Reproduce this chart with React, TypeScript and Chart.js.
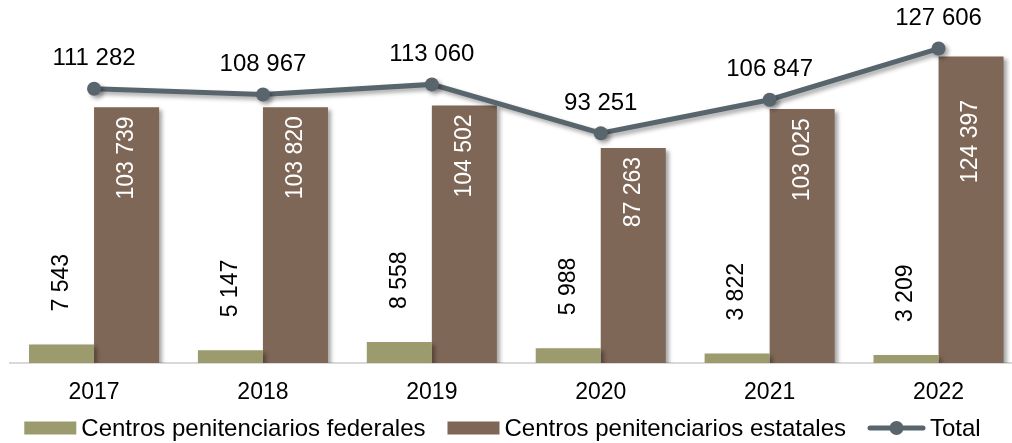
import React, { useEffect, useRef } from 'react';
import { Chart, registerables } from 'chart.js';

Chart.register(...registerables);

const categories = ['2017', '2018', '2019', '2020', '2021', '2022'];
const federales = [7543, 5147, 8558, 5988, 3822, 3209];
const estatales = [103739, 103820, 104502, 87263, 103025, 124397];
const totales = [111282, 108967, 113060, 93251, 106847, 127606];
const seriesNames = [
  'Centros penitenciarios federales',
  'Centros penitenciarios estatales',
  'Total',
];

const COLOR_FED = '#9B9B6E';
const COLOR_EST = '#7F6757';
const COLOR_TOT = '#59656D';
const FONT = '"Liberation Sans", Arial, sans-serif';

const fmt = (v: number) => String(v).replace(/\B(?=(\d{3})+(?!\d))/g, ' ');

const shadowPlugin = {
  id: 'shadowPlugin',
  beforeDatasetDraw(chart: any) {
    const ctx = chart.ctx;
    ctx.save();
    ctx.shadowColor = 'rgba(0,0,0,0.35)';
    ctx.shadowBlur = 4;
    ctx.shadowOffsetX = 3;
    ctx.shadowOffsetY = 3;
  },
  afterDatasetDraw(chart: any) {
    chart.ctx.restore();
  },
};

const labelsPlugin = {
  id: 'labelsPlugin',
  afterDatasetsDraw(chart: any) {
    const ctx = chart.ctx;
    ctx.save();
    ctx.font = `23px ${FONT}`;
    const mF = chart.getDatasetMeta(0);
    const mE = chart.getDatasetMeta(1);
    const mT = chart.getDatasetMeta(2);
    mF.data.forEach((bar: any, i: number) => {
      ctx.save();
      ctx.translate(bar.x, bar.y - 33);
      ctx.rotate(-Math.PI / 2);
      ctx.textAlign = 'left';
      ctx.textBaseline = 'middle';
      ctx.fillStyle = '#000';
      ctx.fillText(fmt(federales[i]), 0, 0);
      ctx.restore();
    });
    mE.data.forEach((bar: any, i: number) => {
      ctx.save();
      ctx.translate(bar.x, Math.max(bar.y + 9, 100));
      ctx.rotate(-Math.PI / 2);
      ctx.textAlign = 'right';
      ctx.textBaseline = 'middle';
      ctx.fillStyle = '#fff';
      ctx.fillText(fmt(estatales[i]), 0, 0);
      ctx.restore();
    });
    ctx.font = `24px ${FONT}`;
    mT.data.forEach((pt: any, i: number) => {
      ctx.textAlign = 'center';
      ctx.textBaseline = 'middle';
      ctx.fillStyle = '#000';
      ctx.fillText(fmt(totales[i]), pt.x, pt.y - 30);
    });
    ctx.restore();
  },
};

const legendPlugin = {
  id: 'customLegend',
  afterDraw(chart: any) {
    const ctx = chart.ctx;
    ctx.save();
    ctx.font = `24px ${FONT}`;
    const symW = [52, 52, 57];
    const gapText = 5;
    const gapItem = 22;
    const widths = seriesNames.map((n, i) => symW[i] + gapText + ctx.measureText(n).width);
    const total = widths.reduce((a, b) => a + b, 0) + gapItem * (widths.length - 1);
    let x = 502.5 - total / 2;
    const cy = 428;
    seriesNames.forEach((name, i) => {
      if (i < 2) {
        ctx.fillStyle = i === 0 ? COLOR_FED : COLOR_EST;
        ctx.fillRect(x, cy - 6.5, symW[i], 13);
      } else {
        ctx.strokeStyle = COLOR_TOT;
        ctx.lineWidth = 5;
        ctx.lineCap = 'round';
        ctx.beginPath();
        ctx.moveTo(x + 2, cy);
        ctx.lineTo(x + symW[i] - 2, cy);
        ctx.stroke();
        ctx.fillStyle = COLOR_TOT;
        ctx.beginPath();
        ctx.arc(x + symW[i] / 2, cy, 7, 0, Math.PI * 2);
        ctx.fill();
      }
      ctx.fillStyle = '#000';
      ctx.textAlign = 'left';
      ctx.textBaseline = 'middle';
      ctx.fillText(name, x + symW[i] + gapText, cy + 1);
      x += widths[i] + gapItem;
    });
    ctx.restore();
  },
};

const CANVAS_W = 1030;
const CANVAS_H = 443;

export default function App() {
  const ref = useRef<HTMLCanvasElement | null>(null);
  useEffect(() => {
    if (!ref.current) return;
    const chart = new Chart(ref.current, {
      type: 'bar',
      data: {
        labels: categories,
        datasets: [
          {
            type: 'bar',
            label: seriesNames[0],
            data: federales,
            backgroundColor: COLOR_FED,
            borderWidth: 0,
            categoryPercentage: 0.77,
            barPercentage: 1,
            order: 1,
          },
          {
            type: 'bar',
            label: seriesNames[1],
            data: estatales,
            backgroundColor: COLOR_EST,
            borderWidth: 0,
            categoryPercentage: 0.77,
            barPercentage: 1,
            order: 1,
          },
          {
            type: 'line',
            label: seriesNames[2],
            data: totales,
            borderColor: COLOR_TOT,
            borderWidth: 5,
            pointRadius: 7,
            pointBackgroundColor: COLOR_TOT,
            pointBorderWidth: 0,
            tension: 0,
            order: 0,
          } as any,
        ],
      },
      options: {
        animation: false,
        responsive: false,
        maintainAspectRatio: false,
        layout: { padding: { left: 9.6, right: 4.3, top: 18, bottom: 0 } },
        plugins: { legend: { display: false }, tooltip: { enabled: false } },
        scales: {
          x: {
            grid: { display: false, drawTicks: false },
            border: { display: true, color: '#d9d9d9', width: 2 },
            ticks: { padding: 16, color: '#000', font: { size: 23, family: FONT } },
            afterFit: (s: any) => {
              s.height = 80;
            },
          },
          y: { display: false, min: 0, max: 140000 },
        },
      } as any,
      plugins: [shadowPlugin, labelsPlugin, legendPlugin],
    });
    return () => chart.destroy();
  }, []);
  return (
    <div
      style={{
        position: 'absolute',
        left: 0,
        top: 0,
        width: 1012,
        height: CANVAS_H,
        overflow: 'hidden',
        background: '#fff',
      }}
    >
      <canvas ref={ref} width={CANVAS_W} height={CANVAS_H} style={{ display: 'block' }} />
    </div>
  );
}
